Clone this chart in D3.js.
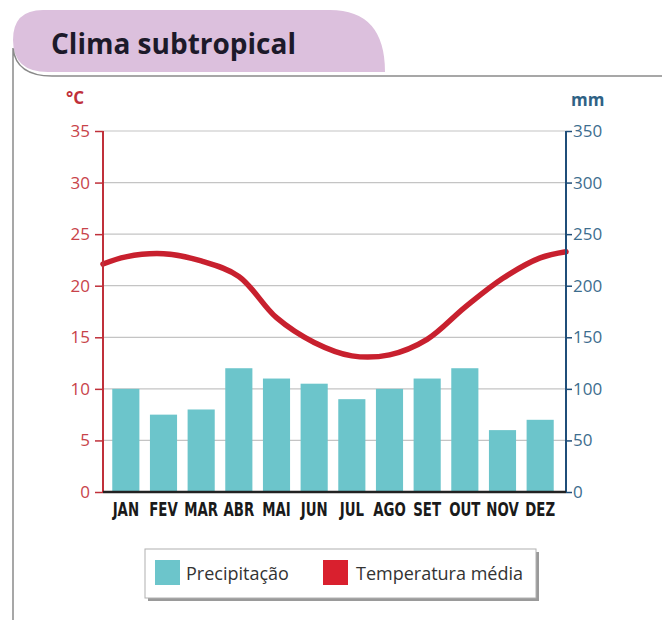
<!DOCTYPE html>
<html lang="pt">
<head>
<meta charset="utf-8">
<title>Clima subtropical</title>
<script src="https://d3js.org/d3.v7.min.js"></script>
<style>
  body { margin: 0; background: #fff; }
  svg { display: block; font-family: "Open Sans", "Noto Sans", sans-serif; }
  .grid line { stroke: #c4c4c4; stroke-width: 1.2; }
  .month { font-family: "Liberation Sans Narrow", "DejaVu Sans Condensed", sans-serif; font-weight: bold; font-size: 19px; fill: #1a1a1a; }
</style>
</head>
<body>
<svg id="chart" width="662" height="621"></svg>
<script>
// data
var months = ["JAN", "FEV", "MAR", "ABR", "MAI", "JUN", "JUL", "AGO", "SET", "OUT", "NOV", "DEZ"];
var precip = [100, 75, 80, 120, 110, 105, 90, 100, 110, 120, 60, 70];      // mm
var temp = [22.8, 23.1, 22.4, 20.9, 16.9, 14.5, 13.2, 13.3, 14.8, 17.9, 20.7, 22.7]; // °C
var tempStart = 22.1, tempEnd = 23.3;   // where the curve meets the two axes
var tempTicks = [0, 5, 10, 15, 20, 25, 30, 35];
var precipTicks = [0, 50, 100, 150, 200, 250, 300, 350];

var svg = d3.select("#chart");
var pLeft = 103, pRight = 566, pTop = 131, pBottom = 492;

// frame + title tab
svg.append("path")
  .attr("d", "M13,620 V40 Q13,10 43,10 H330 Q385,10 385,72 H48 Q13,72 13,40 Z")
  .attr("fill", "#dcc0dd");
svg.append("path")
  .attr("d", "M13,620 V48 Q16,76 52,76 H662")
  .attr("fill", "none").attr("stroke", "#8a8a8a").attr("stroke-width", 1.5);
svg.append("text").attr("x", 51).attr("y", 54)
  .attr("font-size", 28).attr("font-weight", "bold").attr("fill", "#1c1a2a")
  .text("Clima subtropical");

var x = d3.scaleBand().domain(months).range([107, 559]).paddingInner(0.28).paddingOuter(0.14);
var yT = d3.scaleLinear().domain([0, 35]).range([pBottom, pTop]);
var yP = d3.scaleLinear().domain([0, 350]).range([pBottom, pTop]);

// grid
svg.append("g").attr("class", "grid")
  .selectAll("line").data(tempTicks.slice(1)).enter().append("line")
  .attr("x1", pLeft).attr("x2", pRight)
  .attr("y1", function(d) { return yT(d); }).attr("y2", function(d) { return yT(d); });

// bars
svg.append("g").selectAll("rect").data(precip).enter().append("rect")
  .attr("x", function(d, i) { return x(months[i]); })
  .attr("y", function(d) { return yP(d); })
  .attr("width", x.bandwidth())
  .attr("height", function(d) { return pBottom - yP(d); })
  .attr("fill", "#6cc5cb");

// temperature curve
var pts = [[pLeft, tempStart]];
temp.forEach(function(t, i) { pts.push([x(months[i]) + x.bandwidth() / 2, t]); });
pts.push([pRight, tempEnd]);
svg.append("path").datum(pts)
  .attr("fill", "none").attr("stroke", "#c8202e").attr("stroke-width", 5.5)
  .attr("stroke-linecap", "round")
  .attr("d", d3.line().x(function(d) { return d[0]; }).y(function(d) { return yT(d[1]); }).curve(d3.curveCatmullRom.alpha(0.5)));

// left axis
var axL = svg.append("g").attr("transform", "translate(" + pLeft + ",0)")
  .call(d3.axisLeft(yT).tickValues(tempTicks).tickSize(8).tickPadding(5));
axL.select(".domain").attr("stroke", "#c0303a").attr("stroke-width", 2).attr("d", "M0," + pTop + "V" + pBottom);
axL.selectAll(".tick line").attr("stroke", "#c0303a").attr("stroke-width", 1.5);
axL.selectAll(".tick text").attr("fill", "#c8434a").attr("font-size", 17).attr("font-family", "Open Sans, sans-serif");

// right axis
var axR = svg.append("g").attr("transform", "translate(" + pRight + ",0)")
  .call(d3.axisRight(yP).tickValues(precipTicks).tickSize(6).tickPadding(1));
axR.select(".domain").attr("stroke", "#1f4e79").attr("stroke-width", 2).attr("d", "M0," + pTop + "V" + pBottom);
axR.selectAll(".tick line").attr("stroke", "#1f4e79").attr("stroke-width", 1.5);
axR.selectAll(".tick text").attr("fill", "#3d6d8e").attr("font-size", 17).attr("font-family", "Open Sans, sans-serif");

// baseline
svg.append("line").attr("x1", pLeft).attr("x2", pRight).attr("y1", pBottom).attr("y2", pBottom)
  .attr("stroke", "#222").attr("stroke-width", 2.5);

// month labels (squeezed to look condensed)
svg.append("g").selectAll("text").data(months).enter().append("text")
  .attr("class", "month")
  .attr("transform", function(d) { return "translate(" + (x(d) + x.bandwidth() / 2) + ",516) scale(0.78,1)"; })
  .attr("text-anchor", "middle")
  .text(function(d) { return d; });

// units
svg.append("text").attr("x", 66).attr("y", 104).attr("font-size", 17).attr("font-weight", "bold")
  .attr("fill", "#c0303a").text("°C");
svg.append("text").attr("x", 571).attr("y", 106).attr("font-size", 17).attr("font-weight", "bold")
  .attr("fill", "#2f6285").text("mm");

// legend
svg.append("rect").attr("x", 148).attr("y", 552).attr("width", 391).attr("height", 49).attr("fill", "#9a9a9a");
svg.append("rect").attr("x", 145).attr("y", 549).attr("width", 391).attr("height", 49)
  .attr("fill", "#fff").attr("stroke", "#b0b0b0");
svg.append("rect").attr("x", 155).attr("y", 560).attr("width", 25).attr("height", 25).attr("fill", "#6cc5cb");
svg.append("text").attr("x", 186).attr("y", 580).attr("font-size", 18).attr("fill", "#333").text("Precipitação");
svg.append("rect").attr("x", 323).attr("y", 560).attr("width", 25).attr("height", 25).attr("fill", "#d9202e");
svg.append("text").attr("x", 356).attr("y", 580).attr("font-size", 18).attr("fill", "#333").text("Temperatura média");
</script>
</body>
</html>
